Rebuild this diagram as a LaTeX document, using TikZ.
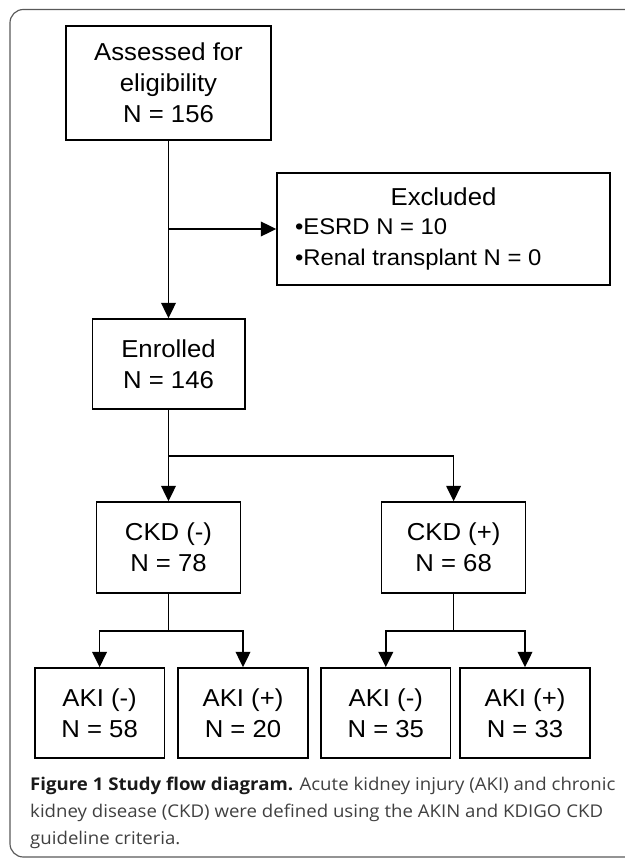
\documentclass[tikz,border=0pt]{standalone}
\usepackage{fontspec}
\setmainfont{Liberation Sans}
\newfontfamily\boxfont[FakeStretch=1.05]{Liberation Sans}
\newfontfamily\capfont[FakeStretch=1.06]{Open Sans}
\usetikzlibrary{arrows.meta,positioning}

\tikzset{
 box/.style={draw,line width=0.5mm,inner sep=0pt,align=center,
  font=\boxfont\fontsize{20.9}{26.5}\selectfont},
 akibox/.style={box,minimum width=38.9mm,minimum height=27mm},
 ckdbox/.style={box,minimum width=43.2mm,minimum height=27.3mm},
 flow/.style={line width=0.5mm,-{Triangle[length=4.6mm,width=4.4mm]}},
 link/.style={line width=0.5mm}
}

\begin{document}
\begin{tikzpicture}[x=0.3mm,y=-0.3mm]
\useasboundingbox (0,0) rectangle (625,858);
\draw[black!65,line width=0.35mm,rounded corners=4mm]
 (650,9.5)--(10,9.5)--(10,857)--(650,857);

\node[box,minimum width=61.5mm,minimum height=34.2mm] (assess) at (168.5,83)
 {Assessed for\\eligibility\\N = 156};
\node[box,minimum width=99.9mm,minimum height=33.6mm,align=left] (excl) at (443.5,229)
 {\makebox[89.1mm]{\raisebox{-2pt}{Excluded}}\\
  {\fontsize{19.4}{25.5}\selectfont\textbullet ESRD N = 10}\\
  {\fontsize{19.4}{25.5}\selectfont\textbullet Renal transplant N = 0}};
\node[box,minimum width=45.7mm,minimum height=27mm] (enrol) at (168.5,364) {Enrolled\\N = 146};

\node[ckdbox] (ckdneg) at (168.5,547.5) {CKD (-)\\N = 78};
\node[ckdbox] (ckdpos) at (453.6,547.5) {CKD (+)\\N = 68};

\node[akibox] (akinn) at (99.6,713) {AKI (-)\\N = 58};
\node[akibox] (akinp) at (243,713) {AKI (+)\\N = 20};
\node[akibox] (akipn) at (385.8,713) {AKI (-)\\N = 35};
\node[akibox] (akipp) at (525,713) {AKI (+)\\N = 33};

\coordinate (split) at (168.5,456);
\coordinate (splitneg) at (168.5,631);
\coordinate (splitpos) at (453.6,631);

\draw[flow] (assess)--(enrol);
\draw[flow] (assess.south |- excl.west)--(excl.west);
\draw[link] (enrol)--(split);
\draw[flow] (split)--(ckdneg);
\draw[flow] (split)-|(ckdpos);
\draw[link] (ckdneg)--(splitneg);
\draw[flow] (splitneg)-|(akinn);
\draw[flow] (splitneg)-|(akinp);
\draw[link] (ckdpos)--(splitpos);
\draw[flow] (splitpos)-|(akipn);
\draw[flow] (splitpos)-|(akipp);

\node[anchor=base west,align=left,inner sep=0pt,text=black!75,
 font=\capfont\fontsize{15}{23}\selectfont] (caption) at (30,844)
 {\textbf{\color{black!90}Figure 1 Study flow diagram.} Acute kidney injury (AKI) and chronic\\
  kidney disease (CKD) were defined using the AKIN and KDIGO CKD\\
  guideline criteria.};
\end{tikzpicture}
\end{document}
